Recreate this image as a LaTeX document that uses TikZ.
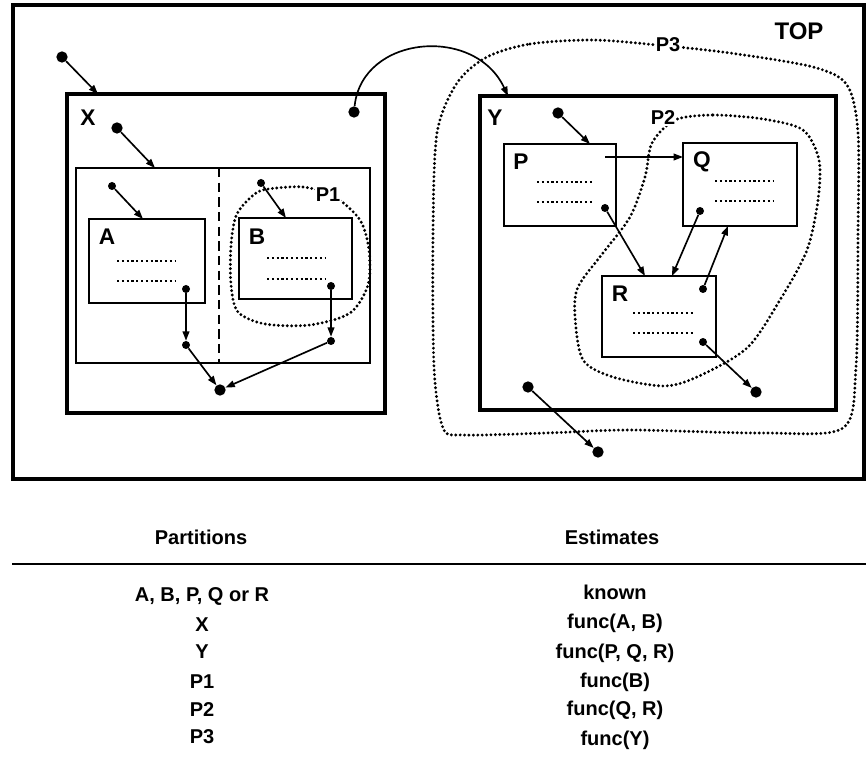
\documentclass[tikz,border=0pt]{standalone}
\usepackage{fontspec}
\setmainfont{Liberation Sans}
\usetikzlibrary{arrows.meta,fit}
\begin{document}
\begin{tikzpicture}[x=0.75pt,y=-0.75pt,
  thickbox/.style={draw,line width=2.4pt,inner sep=0pt},
  thinbox/.style={draw,line width=1.3pt,inner sep=0pt},
  lbl/.style={font=\fontsize{17}{20}\selectfont\bfseries,inner sep=0pt},
  plbl/.style={font=\fontsize{15}{18}\selectfont\bfseries,inner sep=0.6pt,fill=white},
  toplbl/.style={font=\fontsize{18}{21}\selectfont\bfseries,inner sep=0pt},
  tbl/.style={font=\fontsize{15}{18}\selectfont\bfseries,inner sep=0pt},
  bigdot/.style={circle,fill,inner sep=0pt,minimum size=8.5pt},
  smalldot/.style={circle,fill,inner sep=0pt,minimum size=6pt},
  conn/.style={line width=1.25pt,-{Triangle[length=7pt,width=5pt]}},
  txtline/.style={line width=2pt,dash pattern=on 1.6pt off 2pt},
  region/.style={line width=2.4pt,line cap=round,dash pattern=on 0pt off 3.3pt}
]
\useasboundingbox (0,0) rectangle (866,762);

% outer frame
\node[thickbox,fit={(13,5)(864,479)}] (frame) {};
\node[toplbl] (top) at (799,31) {TOP};

% ---- X side ----
\node[thickbox,fit={(67,94)(385,413)}] (X) {};
\node[lbl] (Xl) at (88,118) {X};
\node[thinbox,fit={(76,168)(370,363)}] (AB) {};
\draw[line width=1.3pt,dash pattern=on 7pt off 4pt] (219,168) -- (219,363);
\node[thinbox,fit={(89,219)(205,303)}] (A) {};
\node[thinbox,fit={(239,218)(352,299)}] (B) {};
\node[lbl] (Al) at (107,237) {A};
\node[lbl] (Bl) at (257,237) {B};
\draw[txtline] (117,261) -- (176,261);
\draw[txtline] (117,281) -- (176,281);
\draw[txtline] (267,258) -- (325,258);
\draw[txtline] (267,279) -- (325,279);

% P1 region
\draw[region] plot[smooth cycle] coordinates {(263,190) (303,187) (335,197) (360,220) (369,250) (368,285) (350,313) (310,325) (265,324) (238,312) (231,285) (231,245) (236,216) (248,200)};
\node[plbl] (P1) at (328,195) {P1};

% X side dots and arrows
\node[bigdot] (g1) at (62,57) {};
\coordinate (xT) at (98,94);
\draw[conn] (g1) -- (xT);
\node[bigdot] (g2) at (117,128) {};
\coordinate (abT) at (155,168);
\draw[conn] (g2) -- (abT);
\node[smalldot] (s1) at (112,186) {};
\coordinate (aT) at (143,219);
\draw[conn] (s1) -- (aT);
\node[smalldot] (s2) at (261,183) {};
\coordinate (bT) at (286,218);
\draw[conn] (s2) -- (bT);
\node[smalldot] (a1) at (186,289) {};
\node[smalldot] (a2) at (186,345) {};
\draw[conn] (a1) -- (a2);
\node[smalldot] (b1) at (331,286) {};
\node[smalldot] (b2) at (331,341) {};
\draw[conn] (b1) -- (b2);
\node[bigdot] (c1) at (220,390) {};
\draw[conn] (a2) -- (c1);
\draw[conn] (b2) -- (c1);
\node[bigdot] (g3) at (354,112) {};

% ---- Y side ----
\node[thickbox,fit={(480,96)(836,410)}] (Y) {};
\node[lbl] (Yl) at (495,118) {Y};
\node[thinbox,fit={(504,144)(616,226)}] (P) {};
\node[thinbox,fit={(683,143)(797,226)}] (Q) {};
\node[thinbox,fit={(602,276)(716,357)}] (R) {};
\node[lbl] (Pl) at (521,162) {P};
\node[lbl] (Ql) at (702,162) {Q};
\node[lbl] (Rl) at (620,294) {R};
\draw[txtline] (537,182) -- (594,182);
\draw[txtline] (537,202) -- (594,202);
\draw[txtline] (715,181) -- (774,181);
\draw[txtline] (715,201) -- (774,201);
\draw[txtline] (633,313) -- (694,313);
\draw[txtline] (633,333) -- (694,333);

% P3 region
\draw[region] plot[smooth cycle] coordinates {(487,57) (530,44) (593,40) (657,45) (730,53) (813,67) (847,85) (858,133) (858,233) (856,367) (843,428) (763,433) (630,430) (547,433) (463,435) (443,428) (434,367) (433,233) (437,133) (457,83)};
\node[plbl] (P3) at (668,45) {P3};

% P2 region
\draw[region] plot[smooth cycle] coordinates {(675,120) (713,115) (763,119) (803,130) (819,160) (818,200) (807,250) (780,300) (747,348) (697,377) (663,386) (613,377) (583,360) (575,317) (578,287) (603,253) (630,217) (645,177) (652,143)};
\node[plbl] (P2) at (663,118) {P2};

% curve X -> Y
\coordinate (yT) at (508,96);
\draw[conn] (g3) .. controls (362,35) and (475,25) .. (yT);

% Y side dots and arrows
\node[bigdot] (g4) at (558,113) {};
\coordinate (pT) at (590,144);
\draw[conn] (g4) -- (pT);
\coordinate (pq) at (605,157);
\coordinate (qW) at (683,157);
\draw[conn] (pq) -- (qW);
\node[smalldot] (p1) at (605,208) {};
\coordinate (rT1) at (645,276);
\draw[conn] (p1) -- (rT1);
\node[smalldot] (q1) at (700,211) {};
\coordinate (rT2) at (672,276);
\draw[conn] (q1) -- (rT2);
\node[smalldot] (r1) at (703,289) {};
\coordinate (qB) at (728,226);
\draw[conn] (r1) -- (qB);
\node[smalldot] (r2) at (703,342) {};
\node[bigdot] (g7) at (756,392) {};
\draw[conn] (r2) -- (g7);
\node[bigdot] (g5) at (528,387) {};
\node[bigdot] (g6) at (598,452) {};
\draw[conn] (g5) -- (g6);

% ---- table ----
\node[tbl] (hp) at (201,537) {Partitions};
\node[tbl] (he) at (612,537) {Estimates};
\draw[line width=1.6pt] (12,564) -- (866,564);
\node[tbl] (t1a) at (202,596) {A, B, P, Q or R};
\node[tbl] (t2a) at (202,625) {X};
\node[tbl] (t3a) at (202,652) {Y};
\node[tbl] (t4a) at (202,682) {P1};
\node[tbl] (t5a) at (202,710) {P2};
\node[tbl] (t6a) at (202,737) {P3};
\node[tbl] (t1b) at (615,592) {known};
\node[tbl] (t2b) at (615,623) {func(A, B)};
\node[tbl] (t3b) at (615,653) {func(P, Q, R)};
\node[tbl] (t4b) at (615,682) {func(B)};
\node[tbl] (t5b) at (615,710) {func(Q, R)};
\node[tbl] (t6b) at (615,740) {func(Y)};
\end{tikzpicture}
\end{document}
